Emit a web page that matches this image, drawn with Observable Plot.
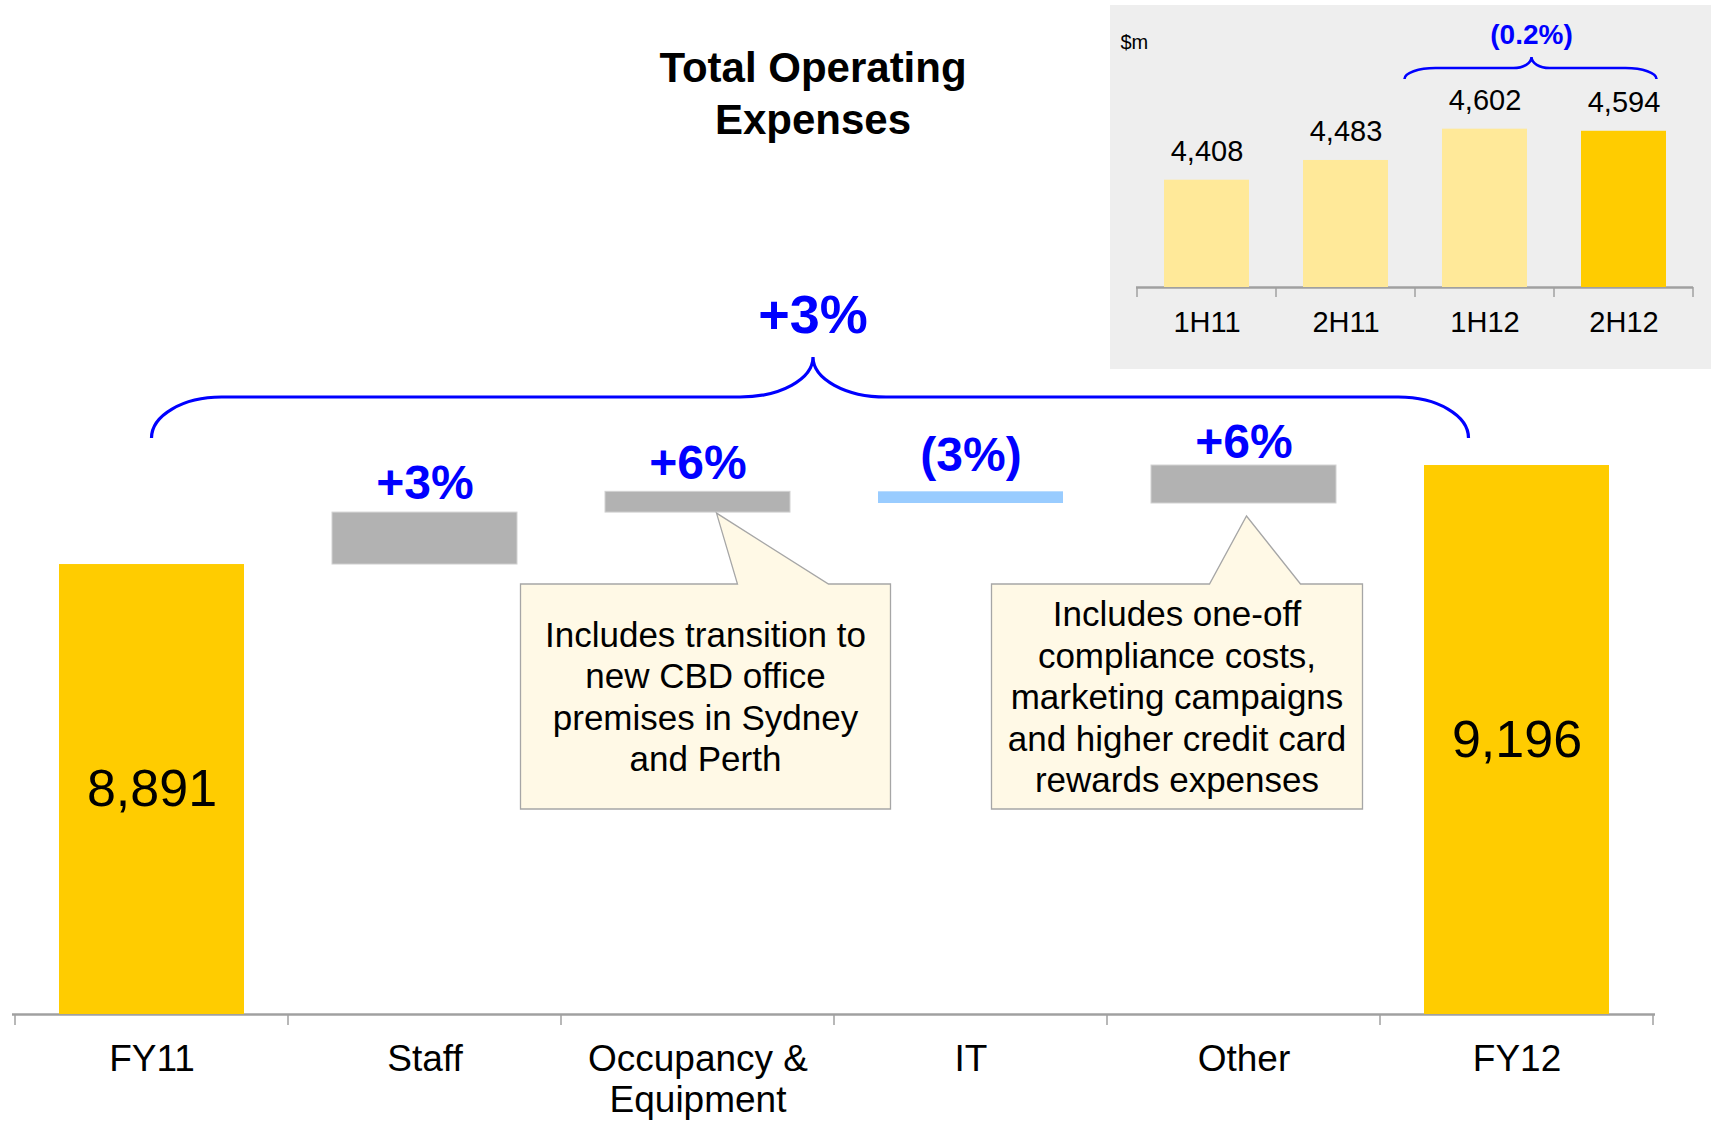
<!DOCTYPE html>
<html>
<head>
<meta charset="utf-8">
<script src="https://cdn.jsdelivr.net/npm/d3@7"></script>
<script src="https://cdn.jsdelivr.net/npm/@observablehq/plot@0.6"></script>
<style>
  body { margin: 0; background: #fff; font-family: "Liberation Sans", Arial, Helvetica, sans-serif; }
  #wrap { position: relative; width: 1711px; height: 1121px; overflow: hidden; background: #fff; }
  #main { position: absolute; left: 0; top: 0; }
  #inset { position: absolute; left: 1110px; top: 5px; }
  #title { position: absolute; left: 513px; width: 600px; top: 42px; text-align: center;
           font-weight: bold; font-size: 42px; line-height: 52px; color: #000; }
</style>
</head>
<body>
<div id="wrap">
  <div id="main"></div>
  <div id="inset"></div>
  <div id="title">Total Operating<br>Expenses</div>
</div>
<script>
// ---------------- DATA ----------------
const categories = ["FY11", "Staff", "Occupancy & Equipment", "IT", "Other", "FY12"];
const startTotal = 8891;
const endTotal = 9196;
const deltas = [160, 64, -36, 117];            // Staff, Occupancy & Equipment, IT, Other ($m)
const pctLabels = ["+3%", "+6%", "(3%)", "+6%"];
const totalPct = "+3%";
const halfYears = ["1H11", "2H11", "1H12", "2H12"];
const halfValues = [4408, 4483, 4602, 4594];
const halfPct = "(0.2%)";
const unitLabel = "$m";
const note1 = "Includes transition to\nnew CBD office\npremises in Sydney\nand Perth";
const note2 = "Includes one-off\ncompliance costs,\nmarketing campaigns\nand higher credit card\nrewards expenses";

// ---------------- STYLE / LAYOUT ----------------
const FONT = '"Liberation Sans", Arial, Helvetica, sans-serif';
const BLUE = "#0000FF";
const GOLD = "#FFCC00";
const GREY = "#B2B2B2";
const LIGHTBLUE = "#99CCFF";
const PALE = "#FFE999";
const AXIS = "#A0A0A0";
const yMin = 7505;
const labelGap = [14, 13, 21, 8];
const fmt = d3.format(",");

// ---------------- DERIVED TABLE ----------------
let run = startTotal;
const rows = [{cat: categories[0], lo: yMin, hi: startTotal, kind: "total", value: startTotal}];
deltas.forEach((d, i) => {
  const a = run; run += d;
  rows.push({cat: categories[i + 1], lo: Math.min(a, run), hi: Math.max(a, run),
             kind: d >= 0 ? "up" : "down", pct: pctLabels[i]});
});
rows.push({cat: categories[5], lo: yMin, hi: endTotal, kind: "total", value: endTotal});
const halfRows = halfYears.map((h, i) => ({h, v: halfValues[i], last: i === halfYears.length - 1}));

function bandGeom(scales, key, n, dims) {
  const s = scales[key];
  let bw = 0, step = 0;
  if (s && typeof s.bandwidth === "function") { bw = s.bandwidth(); step = s.step(); }
  else if (scales.scales && scales.scales[key]) { bw = scales.scales[key].bandwidth; step = scales.scales[key].step; }
  if (!step) step = (dims.width - dims.marginLeft - dims.marginRight) / n;
  return {bw, step, cx: c => s(c) + bw / 2};
}

function bracePath(x0, x1, xm, yEnd, yLine, yCusp, rc, rm) {
  const k = 0.552;
  const h = yEnd - yLine, v = yLine - yCusp;
  return `M${x0},${yEnd} C${x0},${yEnd - k * h} ${x0 + rc - k * rc},${yLine} ${x0 + rc},${yLine}` +
         ` L${xm - rm},${yLine} C${xm - rm + k * rm},${yLine} ${xm},${yCusp + k * v} ${xm},${yCusp}` +
         ` C${xm},${yCusp + k * v} ${xm + rm - k * rm},${yLine} ${xm + rm},${yLine}` +
         ` L${x1 - rc},${yLine} C${x1 - rc + k * rc},${yLine} ${x1},${yEnd - k * h} ${x1},${yEnd}`;
}

function callout(g, box, tip, baseL, baseR, text, fontSize, lineStep) {
  const {x0, x1, y0, y1} = box;
  g.append("path")
    .attr("d", `M${x0},${y0} L${baseL},${y0} L${tip[0]},${tip[1]} L${baseR},${y0} L${x1},${y0} L${x1},${y1} L${x0},${y1} Z`)
    .attr("fill", "#FFF9E6").attr("stroke", "#A6A6A6").attr("stroke-width", 1.3);
  const lines = text.split("\n");
  const cxm = (x0 + x1) / 2, cym = (y0 + y1) / 2;
  const first = cym - (lines.length - 1) * lineStep / 2 + fontSize * 0.36;
  const t = g.append("text").attr("text-anchor", "middle").attr("font-size", fontSize).attr("fill", "#000");
  lines.forEach((l, i) => t.append("tspan").attr("x", cxm).attr("y", first + i * lineStep).text(l));
}

// ---------------- MAIN CHART ----------------
const mainAnnotations = (index, scales, values, dims) => {
  const {step, cx} = bandGeom(scales, "x", categories.length, dims);
  const y = scales.y;
  const g = d3.create("svg:g");
  const y0 = y(yMin);
  // slot-edge ticks
  const firstEdge = cx(categories[0]) - step / 2;
  for (let i = 0; i <= categories.length; i++) {
    const xe = firstEdge + i * step;
    g.append("line").attr("x1", xe).attr("x2", xe).attr("y1", y0).attr("y2", y0 + 11)
      .attr("stroke", AXIS).attr("stroke-width", 1.5);
  }
  // main brace
  const xl = cx(categories[0]);
  const xr = cx(categories[5]) - 48;
  const xm = (xl + xr) / 2 + 3;
  const yEnd = y(endTotal) - 27;
  const yLine = yEnd - 41;
  const yCusp = yLine - 40;
  g.append("path").attr("d", bracePath(xl, xr, xm, yEnd, yLine, yCusp, 70, 73))
    .attr("fill", "none").attr("stroke", BLUE).attr("stroke-width", 3.2);
  g.append("text").attr("x", xm).attr("y", yCusp - 24).attr("text-anchor", "middle")
    .attr("font-size", 54).attr("font-weight", "bold").attr("fill", BLUE).text(totalPct);
  // callout 1 (Occupancy & Equipment)
  const occ = rows[2], oth = rows[4];
  const c1 = cx(occ.cat);
  callout(g, {x0: c1 + 8 - 185, x1: c1 + 8 + 185, y0: y0 - 430, y1: y0 - 205},
          [c1 + 19, y(occ.lo) + 1], c1 + 40, c1 + 131, note1, 35, 41.5);
  // callout 2 (Other)
  const c2 = cx(oth.cat);
  callout(g, {x0: c2 - 66.5 - 185.5, x1: c2 - 66.5 + 185.5, y0: y0 - 430, y1: y0 - 205},
          [c2 + 3, y(oth.lo) + 13], c2 - 34, c2 + 57, note2, 35, 41.5);
  return g.node();
};

const deltaRows = rows.filter(d => d.kind !== "total");
const mainPlot = Plot.plot({
  width: 1711, height: 1121,
  marginLeft: 12, marginRight: 56, marginTop: 204, marginBottom: 107,
  style: {fontFamily: FONT, background: "transparent", color: "#000", overflow: "visible"},
  x: {domain: categories, paddingInner: 0.324, paddingOuter: 0.162, label: null},
  y: {domain: [yMin, 10000], axis: null},
  marks: [
    Plot.ruleY([yMin], {stroke: AXIS, strokeWidth: 2.5}),
    Plot.barY(rows.filter(d => d.kind === "total"), {x: "cat", y1: "lo", y2: "hi", fill: GOLD}),
    Plot.barY(rows.filter(d => d.kind === "up"), {x: "cat", y1: "lo", y2: "hi", fill: GREY, stroke: "#D2D2D2", strokeWidth: 1}),
    Plot.barY(rows.filter(d => d.kind === "down"), {x: "cat", y1: "lo", y2: "hi", fill: LIGHTBLUE}),
    Plot.text(rows.filter(d => d.kind === "total"), {
      x: "cat", y: d => (d.lo + d.hi) / 2, text: d => fmt(d.value),
      fontSize: 52, fill: "#000"
    }),
    ...deltaRows.map((d, i) => Plot.text([d], {
      x: "cat", y: "hi", text: "pct", lineAnchor: "bottom", dy: -labelGap[i],
      fontSize: 48, fontWeight: "bold", fill: BLUE
    })),
    Plot.axisX({
      tickSize: 0, tickPadding: 28, fontSize: 37, lineHeight: 1.1, label: null,
      tickFormat: d => d === "Occupancy & Equipment" ? "Occupancy &\nEquipment" : d
    }),
    mainAnnotations
  ]
});
document.getElementById("main").appendChild(mainPlot);

// ---------------- INSET CHART ----------------
const insetAnnotations = (index, scales, values, dims) => {
  const {step, cx} = bandGeom(scales, "x", halfYears.length, dims);
  const y = scales.y;
  const g = d3.create("svg:g");
  const y0 = y(4000);
  const firstEdge = cx(halfYears[0]) - step / 2;
  for (let i = 0; i <= halfYears.length; i++) {
    const xe = firstEdge + i * step;
    g.append("line").attr("x1", xe).attr("x2", xe).attr("y1", y0).attr("y2", y0 + 10)
      .attr("stroke", AXIS).attr("stroke-width", 1.5);
  }
  const xl = cx(halfYears[2]) - 80;
  const xr = cx(halfYears[3]) + 33;
  const xm = (xl + xr) / 2 + 1;
  const yEnd = 74, yLine = 63, yCusp = 52;
  g.append("path").attr("d", bracePath(xl, xr, xm, yEnd, yLine, yCusp, 31, 18))
    .attr("fill", "none").attr("stroke", BLUE).attr("stroke-width", 2.6);
  g.append("text").attr("x", xm).attr("y", yCusp - 13).attr("text-anchor", "middle")
    .attr("font-size", 28).attr("font-weight", "bold").attr("fill", BLUE).text(halfPct);
  return g.node();
};

const insetPlot = Plot.plot({
  width: 601, height: 364,
  marginLeft: 26, marginRight: 18, marginTop: 19, marginBottom: 82,
  style: {fontFamily: FONT, background: "#EEEEEE", color: "#000", overflow: "visible"},
  x: {domain: halfYears, paddingInner: 0.39, paddingOuter: 0.195, label: null},
  y: {domain: [4000, 5000], axis: null},
  marks: [
    Plot.ruleY([4000], {stroke: AXIS, strokeWidth: 2.5}),
    Plot.barY(halfRows.filter(d => !d.last), {x: "h", y1: 4000, y2: "v", fill: PALE}),
    Plot.barY(halfRows.filter(d => d.last), {x: "h", y1: 4000, y2: "v", fill: GOLD}),
    Plot.text(halfRows, {x: "h", y: "v", text: d => fmt(d.v), lineAnchor: "bottom", dy: -19, fontSize: 29, fill: "#000"}),
    Plot.axisX({tickSize: 0, tickPadding: 24, fontSize: 29, label: null}),
    Plot.text([unitLabel], {text: d => d, frameAnchor: "top-left", lineAnchor: "bottom", dx: -16, dy: 24, fontSize: 20, fill: "#000"}),
    insetAnnotations
  ]
});
document.getElementById("inset").appendChild(insetPlot);
</script>
</body>
</html>
